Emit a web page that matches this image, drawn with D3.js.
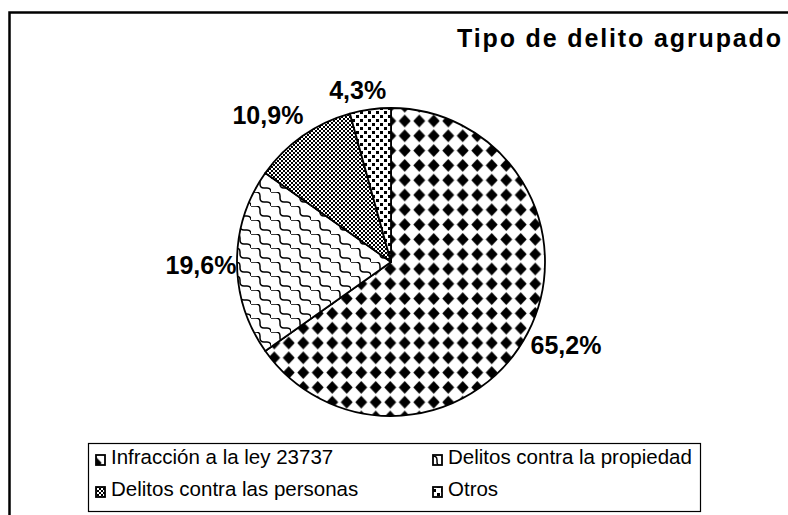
<!DOCTYPE html>
<html lang="es">
<head>
<meta charset="UTF-8">
<title>Tipo de delito agrupado</title>
<script src="https://d3js.org/d3.v7.min.js"></script>
<style>
  body { margin: 0; background: #fff; }
  svg { display: block; font-family: "Liberation Sans", Arial, sans-serif; }
</style>
</head>
<body>
<script>
// datos
const categories = ["Infracción a la ley 23737", "Delitos contra la propiedad", "Delitos contra las personas", "Otros"];
const values = [65.2, 19.6, 10.9, 4.3];
const valueLabels = ["65,2%", "19,6%", "10,9%", "4,3%"];
const patternIds = ["diamantes", "escamas", "damero", "puntos"];

const width = 788, height = 515;
const cx = 391, cy = 262, radius = 154;

const svg = d3.select("body").append("svg")
  .attr("width", width)
  .attr("height", height);

// tramas en blanco y negro
const defs = svg.append("defs");

const pDiam = defs.append("pattern").attr("id", "diamantes")
  .attr("patternUnits", "userSpaceOnUse").attr("width", 14.5).attr("height", 14.8)
  .attr("x", cx + 7).attr("y", cy + 4);
pDiam.append("rect").attr("width", 14.5).attr("height", 14.8).attr("fill", "#fff");
pDiam.append("path").attr("d", "M7.25,1 L13.2,7.4 L7.25,13.8 L1.3,7.4 Z").attr("fill", "#000");

const pEsc = defs.append("pattern").attr("id", "escamas")
  .attr("patternUnits", "userSpaceOnUse").attr("width", 20).attr("height", 14);
pEsc.append("rect").attr("width", 20).attr("height", 14).attr("fill", "#fff");
pEsc.append("path")
  .attr("d", "M0,0 H5 Q9,0 9,4 V6 Q9,10 13,10 H16 Q20,10 20,14")
  .attr("fill", "none").attr("stroke", "#000").attr("stroke-width", 1.5);

const pDam = defs.append("pattern").attr("id", "damero")
  .attr("patternUnits", "userSpaceOnUse").attr("width", 4).attr("height", 4);
pDam.append("rect").attr("width", 4).attr("height", 4).attr("fill", "#fff");
pDam.append("rect").attr("width", 2).attr("height", 2).attr("fill", "#000");
pDam.append("rect").attr("x", 2).attr("y", 2).attr("width", 2).attr("height", 2).attr("fill", "#000");

const pPts = defs.append("pattern").attr("id", "puntos")
  .attr("patternUnits", "userSpaceOnUse").attr("width", 8).attr("height", 8);
pPts.append("rect").attr("width", 8).attr("height", 8).attr("fill", "#fff");
pPts.append("rect").attr("x", 1).attr("y", 1).attr("width", 3).attr("height", 3).attr("fill", "#000");
pPts.append("rect").attr("x", 5).attr("y", 5).attr("width", 3).attr("height", 3).attr("fill", "#000");

// marco exterior
svg.append("rect")
  .attr("x", 9.5).attr("y", 12.5)
  .attr("width", 900).attr("height", 700)
  .attr("fill", "none").attr("stroke", "#000").attr("stroke-width", 2.5);

// titulo
svg.append("text")
  .attr("x", 781).attr("y", 47)
  .attr("text-anchor", "end")
  .attr("font-size", 25).attr("font-weight", "bold")
  .attr("textLength", 324).attr("lengthAdjust", "spacing")
  .text("Tipo de delito agrupado");

// torta
const pie = d3.pie().sort(null).value(d => d)(values);
const arc = d3.arc().innerRadius(0).outerRadius(radius);

const g = svg.append("g").attr("transform", `translate(${cx},${cy})`);

g.selectAll("path.slice")
  .data(pie)
  .join("path")
  .attr("class", "slice")
  .attr("d", arc)
  .attr("fill", (d, i) => `url(#${patternIds[i]})`)
  .attr("stroke", "#000")
  .attr("stroke-width", 1.8)
  .attr("stroke-linejoin", "round");

// etiquetas
const labelArc = d3.arc().innerRadius(radius + 34).outerRadius(radius + 34);
const nudge = [[8, -3], [-2, 3], [-15, 7], [-8, 14]];

g.selectAll("text.lbl")
  .data(pie)
  .join("text")
  .attr("class", "lbl")
  .attr("x", (d, i) => labelArc.centroid(d)[0] + nudge[i][0])
  .attr("y", (d, i) => labelArc.centroid(d)[1] + nudge[i][1])
  .attr("text-anchor", "middle")
  .attr("dominant-baseline", "central")
  .attr("font-size", 25).attr("font-weight", "bold")
  .text((d, i) => valueLabels[i]);

// leyenda
const legend = svg.append("g");
legend.append("rect")
  .attr("x", 88.5).attr("y", 443.5)
  .attr("width", 612).attr("height", 68)
  .attr("fill", "#fff").attr("stroke", "#000").attr("stroke-width", 1.2);

const colX = [111, 448], rowY = [456, 488];
const item = legend.selectAll("g.item")
  .data(categories)
  .join("g")
  .attr("class", "item")
  .attr("transform", (d, i) => `translate(${colX[i % 2]},${rowY[Math.floor(i / 2)]})`);

item.append("rect")
  .attr("x", -15).attr("y", -1)
  .attr("width", 9).attr("height", 10)
  .attr("fill", (d, i) => `url(#${patternIds[i]})`)
  .attr("stroke", "#000").attr("stroke-width", 1.8);

item.append("text")
  .attr("x", 0).attr("y", 0)
  .attr("dominant-baseline", "central")
  .attr("font-size", 20.5)
  .text(d => d);
</script>
</body>
</html>
